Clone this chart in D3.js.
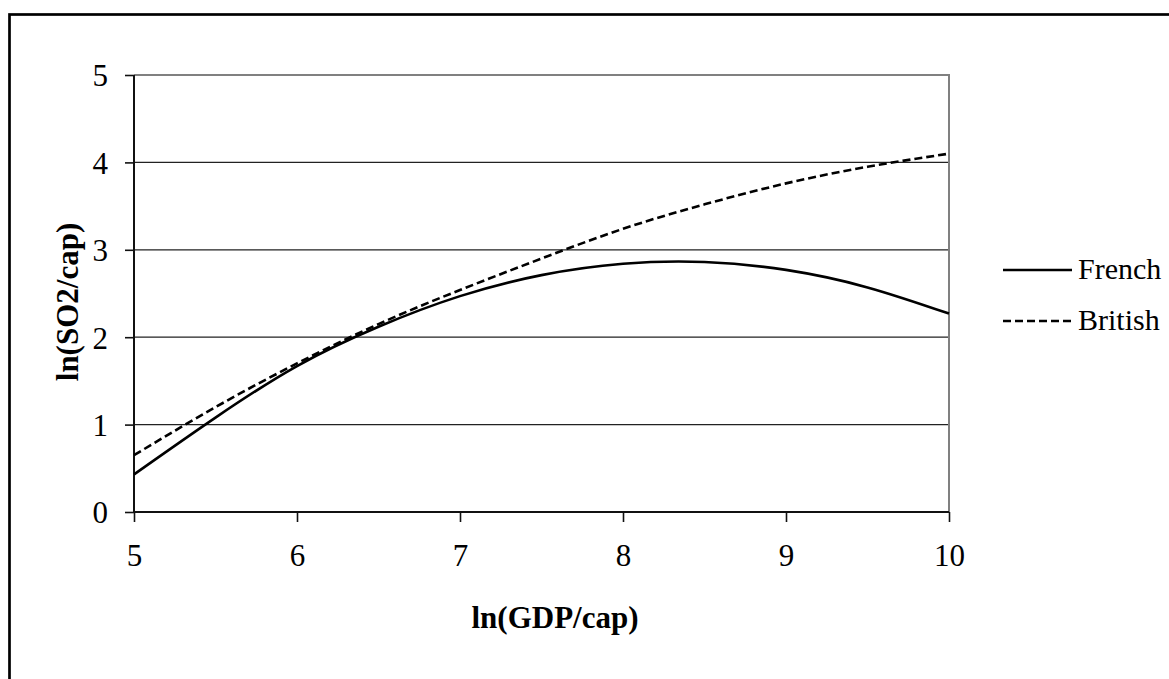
<!DOCTYPE html>
<html>
<head>
<meta charset="utf-8">
<script src="https://cdn.jsdelivr.net/npm/d3@7"></script>
<style>
  body { margin: 0; background: #fff; }
  text { font-family: "Times New Roman", "Liberation Serif", "DejaVu Serif", serif; fill: #000; }
</style>
</head>
<body>
<div id="chart"></div>
<script>
// valores
const gdp = [5, 5.5, 6, 6.5, 7, 7.5, 8, 8.5, 9, 9.5, 10];
const french = [0.43, 1.08, 1.67, 2.12, 2.47, 2.71, 2.84, 2.86, 2.77, 2.57, 2.27];
const british = [0.65, 1.2, 1.7, 2.15, 2.54, 2.9, 3.24, 3.52, 3.76, 3.95, 4.1];
const xTicks = [5, 6, 7, 8, 9, 10];
const yTicks = [0, 1, 2, 3, 4, 5];
const seriesNames = ["French", "British"];

const serif = '"Times New Roman", "Liberation Serif", "DejaVu Serif", serif';
const width = 1169;
const height = 679;
const plot = { left: 134, right: 949, top: 75, bottom: 512 };

const svg = d3
  .select("#chart")
  .append("svg")
  .attr("width", width)
  .attr("height", height);

// marco exterior
svg
  .append("rect")
  .attr("x", 9.5)
  .attr("y", 14.5)
  .attr("width", 1300)
  .attr("height", 800)
  .attr("fill", "none")
  .attr("stroke", "#000")
  .attr("stroke-width", 2.7);

const x = d3.scaleLinear().domain([5, 10]).range([plot.left, plot.right]);
const y = d3.scaleLinear().domain([0, 5]).range([plot.bottom, plot.top]);

// lineas de cuadricula
svg
  .append("g")
  .selectAll("line")
  .data(yTicks.filter((d) => d > 0 && d < 5))
  .join("line")
  .attr("x1", plot.left)
  .attr("x2", plot.right)
  .attr("y1", (d) => y(d))
  .attr("y2", (d) => y(d))
  .attr("stroke", "#222")
  .attr("stroke-width", 1.3);

// borde del area de trazado
svg
  .append("path")
  .attr("d", `M${plot.left},${plot.top}H${plot.right}V${plot.bottom}`)
  .attr("fill", "none")
  .attr("stroke", "#808080")
  .attr("stroke-width", 2);

// ejes
const xAxis = svg
  .append("g")
  .attr("transform", `translate(0,${plot.bottom})`)
  .call(d3.axisBottom(x).tickValues(xTicks).tickSize(10).tickPadding(22).tickFormat(d3.format("d")));

const yAxis = svg
  .append("g")
  .attr("transform", `translate(${plot.left},0)`)
  .call(d3.axisLeft(y).tickValues(yTicks).tickSize(9).tickPadding(17).tickFormat(d3.format("d")));

[xAxis, yAxis].forEach((ax) => {
  ax.attr("font-family", null).attr("font-size", null);
  ax.select(".domain").attr("stroke", "#111").attr("stroke-width", 2);
  ax.selectAll(".tick line").attr("stroke", "#111").attr("stroke-width", 1.6);
  ax.selectAll(".tick text")
    .style("font-family", serif)
    .style("font-size", "31px")
    .attr("fill", "#000");
});
xAxis.select(".domain").attr("d", `M${plot.left},0H${plot.right}`);
yAxis.select(".domain").attr("d", `M0,${plot.bottom}V${plot.top}`);
xAxis.selectAll(".tick text").attr("dy", "0.71em");
yAxis.selectAll(".tick text").attr("dy", "0.35em");

// series
const line = d3
  .line()
  .x((d, i) => x(gdp[i]))
  .y((d) => y(d))
  .curve(d3.curveNatural);

svg
  .append("path")
  .datum(french)
  .attr("d", line)
  .attr("fill", "none")
  .attr("stroke", "#000")
  .attr("stroke-width", 2.6);

svg
  .append("path")
  .datum(british)
  .attr("d", line)
  .attr("fill", "none")
  .attr("stroke", "#000")
  .attr("stroke-width", 2.6)
  .attr("stroke-dasharray", "8,4");

// titulos de ejes
svg
  .append("text")
  .attr("x", 555)
  .attr("y", 628)
  .attr("text-anchor", "middle")
  .style("font-family", serif)
  .style("font-size", "31px")
  .style("font-weight", "bold")
  .text("ln(GDP/cap)");

svg
  .append("text")
  .attr("transform", `translate(78,${302}) rotate(-90)`)
  .attr("text-anchor", "middle")
  .style("font-family", serif)
  .style("font-size", "31px")
  .style("font-weight", "bold")
  .text("ln(SO2/cap)");

// leyenda
const legend = svg.append("g").attr("transform", "translate(1003,270)");

const item = legend
  .selectAll("g")
  .data(seriesNames)
  .join("g")
  .attr("transform", (d, i) => `translate(0,${i * 51})`);

item
  .append("line")
  .attr("x1", 0)
  .attr("x2", 69)
  .attr("stroke", "#000")
  .attr("stroke-width", 2.6)
  .attr("stroke-dasharray", (d, i) => (i === 1 ? "8,4" : null));

item
  .append("text")
  .attr("x", 75)
  .attr("y", 9)
  .style("font-family", serif)
  .style("font-size", "30px")
  .text((d) => d);
</script>
</body>
</html>
